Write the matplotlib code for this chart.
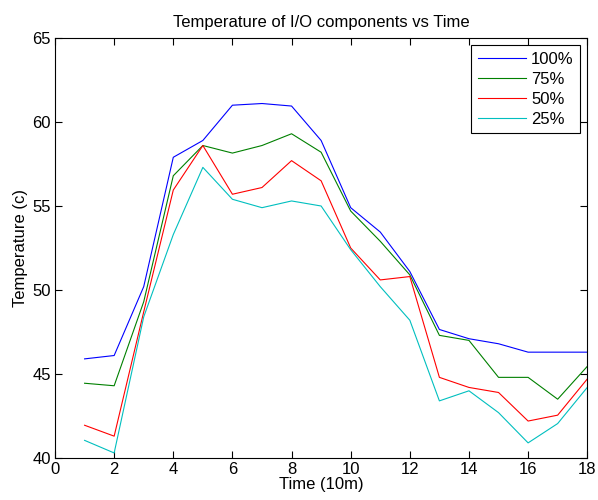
import numpy as np
import matplotlib.pyplot as plt

plt.rcParams['font.family'] = ['Liberation Sans', 'DejaVu Sans']

time = np.arange(1, 19)
t100 = [45.9, 46.1, 50.2, 57.9, 58.9, 61.0, 61.1, 60.95, 58.9, 54.9, 53.45, 51.1,
        47.65, 47.1, 46.8, 46.3, 46.3, 46.3]
t75 = [44.45, 44.3, 49.3, 56.8, 58.6, 58.15, 58.6, 59.3, 58.2, 54.7, 52.9, 50.9,
       47.3, 47.0, 44.8, 44.8, 43.5, 45.45]
t50 = [41.95, 41.3, 48.7, 55.95, 58.6, 55.7, 56.1, 57.7, 56.5, 52.5, 50.6, 50.8,
       44.8, 44.2, 43.9, 42.2, 42.55, 44.7]
t25 = [41.05, 40.3, 48.4, 53.3, 57.3, 55.4, 54.9, 55.3, 55.0, 52.4, 50.2, 48.2,
       43.4, 44.0, 42.7, 40.9, 42.05, 44.2]
labels = ['100%', '75%', '50%', '25%']
colors = ['#0000ff', '#008000', '#ff0000', '#00bfbf']

fig = plt.figure(figsize=(5.98, 5.0), dpi=100)
ax = fig.add_axes([0.092, 0.084, 0.89, 0.84])

for vals, lab, c in zip([t100, t75, t50, t25], labels, colors):
    ax.plot(time, vals, color=c, lw=0.8, label=lab)

ax.set_xlim(0, 18)
ax.set_ylim(40, 65)
ax.set_xticks(range(0, 19, 2))
ax.set_yticks(range(40, 66, 5))
ax.tick_params(direction='in', top=True, right=True, labelsize=12, length=5, pad=3)
for s in ax.spines.values():
    s.set_linewidth(0.8)

ax.set_xlabel('Time (10m)', fontsize=12, labelpad=0)
ax.set_ylabel('Temperature (c)', fontsize=12, labelpad=3)
ax.set_title('Temperature of I/O components vs Time', fontsize=12, pad=8)

leg = ax.legend(loc='upper right', fontsize=12, handlelength=2.9, fancybox=False,
                edgecolor='black', framealpha=1, borderaxespad=0.42,
                labelspacing=0.3, borderpad=0.4, handletextpad=0.3)
leg.get_frame().set_linewidth(0.8)

fig.savefig('out.png', dpi=100)
